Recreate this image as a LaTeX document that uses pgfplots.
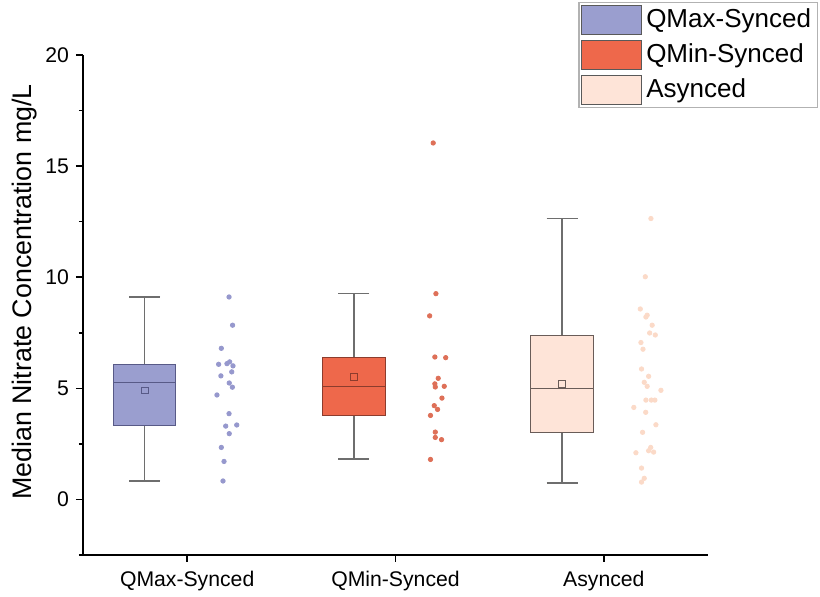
\documentclass[border=0pt]{standalone}
\usepackage{fontspec}
\setmainfont{Liberation Sans}
\usepackage{pgfplots}
\pgfplotsset{compat=1.18}
\usepgfplotslibrary{statistics}
\definecolor{qmaxFill}{RGB}{154,158,207}
\definecolor{qmaxEdge}{RGB}{88,90,135}
\definecolor{qmaxPt}{RGB}{150,152,205}
\definecolor{qminFill}{RGB}{238,104,75}
\definecolor{qminEdge}{RGB}{140,60,45}
\definecolor{qminPt}{RGB}{222,112,88}
\definecolor{asyFill}{RGB}{254,228,216}
\definecolor{asyEdge}{RGB}{105,92,88}
\definecolor{asyPt}{RGB}{251,218,200}
\definecolor{whisk}{RGB}{110,110,110}
\begin{document}
\begin{tikzpicture}
\begin{axis}[
  scale only axis,
  width=312.5pt, height=250pt,
  xmin=0.5, xmax=3.5,
  ymin=-2.5, ymax=20,
  axis x line*=bottom, axis y line*=left,
  axis line style={line width=0.75pt, black},
  tick align=outside,
  tick style={line width=0.75pt, black},
  major tick length=3.5pt, minor tick length=2pt,
  xtick={1,2,3},
  xticklabels={QMax-Synced, QMin-Synced, Asynced},
  ytick={0,5,10,15,20},
  minor ytick={-2.5,2.5,7.5,12.5,17.5},
  ticklabel style={font=\fontsize{10.6}{12}\selectfont},
  xticklabel style={yshift=-1pt},
  /pgf/number format/assume math mode=true,
  ylabel={Median Nitrate Concentration mg/L},
  ylabel style={font=\fontsize{13.4}{15}\selectfont, at={(axis description cs:-0.093,0.526)}, anchor=center},
  legend style={at={(axis description cs:1.176,1.106)}, anchor=north east,
    draw=gray!60, line width=0.6pt, font=\fontsize{13}{14}\selectfont,
    inner xsep=1.2pt, inner ysep=1.2pt, row sep=2.6pt,
    cells={anchor=west}},
  legend cell align=left,
  boxplot/draw direction=y,
  boxplot/every box/.style={line width=0.5pt},
  boxplot/every whisker/.style={draw=whisk, line width=0.75pt},
  boxplot/every median/.style={line width=0.6pt},
]
\addlegendimage{legend image code/.code={\draw[fill=qmaxFill, draw=gray!70!black, line width=0.4pt] (2pt,-7.2pt) rectangle (32pt,7.2pt);}}
\addlegendentry{QMax-Synced}
\addlegendimage{legend image code/.code={\draw[fill=qminFill, draw=gray!70!black, line width=0.4pt] (2pt,-7.2pt) rectangle (32pt,7.2pt);}}
\addlegendentry{QMin-Synced}
\addlegendimage{legend image code/.code={\draw[fill=asyFill, draw=gray!70!black, line width=0.4pt] (2pt,-7.2pt) rectangle (32pt,7.2pt);}}
\addlegendentry{Asynced}

% boxes
\addplot[forget plot, draw=qmaxEdge, fill=qmaxFill, solid,
  boxplot prepared={draw position=0.796, lower whisker=0.84, lower quartile=3.32,
  median=5.27, upper quartile=6.09, upper whisker=9.11, box extend=0.30, whisker extend=0.15}]
  coordinates {};
\addplot[forget plot, draw=qminEdge, fill=qminFill, solid,
  boxplot prepared={draw position=1.80, lower whisker=1.82, lower quartile=3.78,
  median=5.08, upper quartile=6.38, upper whisker=9.26, box extend=0.30, whisker extend=0.15}]
  coordinates {};
\addplot[forget plot, draw=asyEdge, fill=asyFill, solid,
  boxplot prepared={draw position=2.80, lower whisker=0.73, lower quartile=3.02,
  median=4.99, upper quartile=7.37, upper whisker=12.64, box extend=0.30, whisker extend=0.15}]
  coordinates {};

% means
\addplot[forget plot, only marks, mark=square, mark size=1.7pt, color=qmaxEdge, mark options={line width=0.5pt}] coordinates {(0.796,4.90)};
\addplot[forget plot, only marks, mark=square, mark size=1.7pt, color=qminEdge, mark options={line width=0.5pt}] coordinates {(1.80,5.51)};
\addplot[forget plot, only marks, mark=square, mark size=1.7pt, color=asyEdge, mark options={line width=0.5pt}] coordinates {(2.80,5.21)};

% data points
\addplot[forget plot, only marks, mark=*, mark size=1.1pt, color=qmaxPt] coordinates {
(1.201,9.11) (1.218,7.84) (1.164,6.80) (1.151,6.08) (1.191,6.11) (1.204,6.19)
(1.220,6.01) (1.214,5.74) (1.162,5.56) (1.202,5.24) (1.217,5.05) (1.143,4.70)
(1.201,3.86) (1.185,3.30) (1.238,3.35) (1.202,2.96) (1.164,2.34) (1.177,1.71)
(1.172,0.83)};
\addplot[forget plot, only marks, mark=*, mark size=1.1pt, color=qminPt] coordinates {
(2.181,16.04) (2.194,9.26) (2.164,8.26) (2.189,6.41) (2.241,6.38) (2.205,5.45)
(2.189,5.20) (2.191,5.06) (2.234,5.09) (2.223,4.56) (2.186,4.22) (2.202,4.05)
(2.168,3.78) (2.191,3.03) (2.191,2.79) (2.221,2.69) (2.168,1.80)};
\addplot[forget plot, only marks, mark=*, mark size=1.1pt, color=asyPt] coordinates {
(3.226,12.64) (3.199,10.02) (3.175,8.57) (3.202,8.21) (3.208,8.29) (3.232,7.84)
(3.220,7.49) (3.247,7.40) (3.178,7.06) (3.188,6.76) (3.181,5.87) (3.215,5.54)
(3.194,5.27) (3.208,5.09) (3.274,4.91) (3.202,4.47) (3.228,4.47) (3.245,4.47)
(3.144,4.14) (3.201,3.92) (3.250,3.36) (3.186,3.02) (3.225,2.34) (3.215,2.19)
(3.239,2.13) (3.154,2.10) (3.181,1.41) (3.194,0.95) (3.181,0.78)};
\end{axis}
\pgfresetboundingbox
\path (-41.5pt,-21pt) rectangle (368.5pt,277.5pt);
\end{tikzpicture}
\end{document}
